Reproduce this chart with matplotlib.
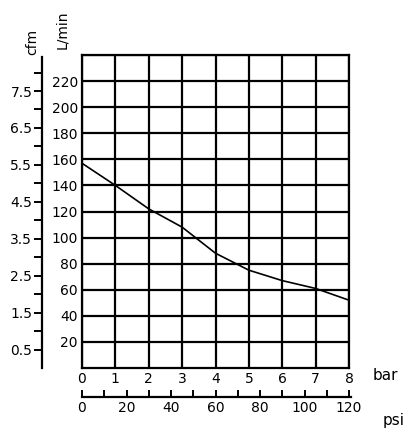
import matplotlib
matplotlib.use("Agg")
import matplotlib.pyplot as plt

bar = [0, 1, 2, 3, 4, 5, 6, 7, 8]
flow = [157, 140, 122, 108, 88, 75, 67, 61, 52]
lmin_ticks = [20, 40, 60, 80, 100, 120, 140, 160, 180, 200, 220]
cfm_labels = [0.5, 1.5, 2.5, 3.5, 4.5, 5.5, 6.5, 7.5]
psi_labels = [0, 20, 40, 60, 80, 100, 120]

W, H = 416, 433
fig = plt.figure(figsize=(W/100, H/100), dpi=100)
fs = 10
ax = fig.add_axes([82/W, 1-368/H, 267/W, 313/H])
ax.plot(bar, flow, color="black", lw=1.2)
ax.set_xlim(0, 8); ax.set_ylim(0, 240)
ax.set_xticks(range(9)); ax.set_yticks(lmin_ticks + [240])
ax.set_yticklabels([str(v) for v in lmin_ticks] + [""])
ax.grid(True, color="black", lw=1.6)
for s in ax.spines.values(): s.set_linewidth(1.6)
ax.tick_params(length=0, labelsize=fs, pad=3)
fig.text(373/W, 1-376/H, "bar", fontsize=fs+1, va="center")
fig.text(62/W, 1-30/H, "L/min", rotation=90, fontsize=fs, ha="center", va="center")
fig.text(32/W, 1-42/H, "cfm", rotation=90, fontsize=fs, ha="center", va="center")
fig.text(383/W, 1-420/H, "psi", fontsize=fs+1, va="center")

# cfm axis
cf = fig.add_axes([42/W, 1-368/H, 0.001, 313/H])
cf.set_ylim(0, 240/28.317)
for k in ["top", "right", "bottom"]: cf.spines[k].set_visible(False)
cf.spines["left"].set_linewidth(1.6)
cf.spines["left"].set_bounds(0, 240/28.317 - 0.05)
cf.set_xticks([])
cf.set_yticks(cfm_labels)
cf.set_yticks([1, 2, 3, 4, 5, 6, 7, 8], minor=True)
cf.set_yticklabels([str(v) for v in cfm_labels])
cf.tick_params(axis="y", which="both", direction="out", length=6, width=1.4, labelsize=fs, pad=1)

# psi axis
ps = fig.add_axes([82/W, 1-397/H, 267/W, 0.001])
ps.set_xlim(0, 8*14.5038)
for k in ["top", "right", "left"]: ps.spines[k].set_visible(False)
ps.spines["bottom"].set_linewidth(1.6)
ps.spines["bottom"].set_bounds(0, 121)
ps.set_yticks([])
ps.set_xticks(psi_labels)
ps.set_xticks([10, 30, 50, 70, 90, 110], minor=True)
ps.tick_params(axis="x", which="both", direction="in", length=5, width=1.4, labelsize=fs, pad=3)
fig.savefig("out.png", dpi=100)
